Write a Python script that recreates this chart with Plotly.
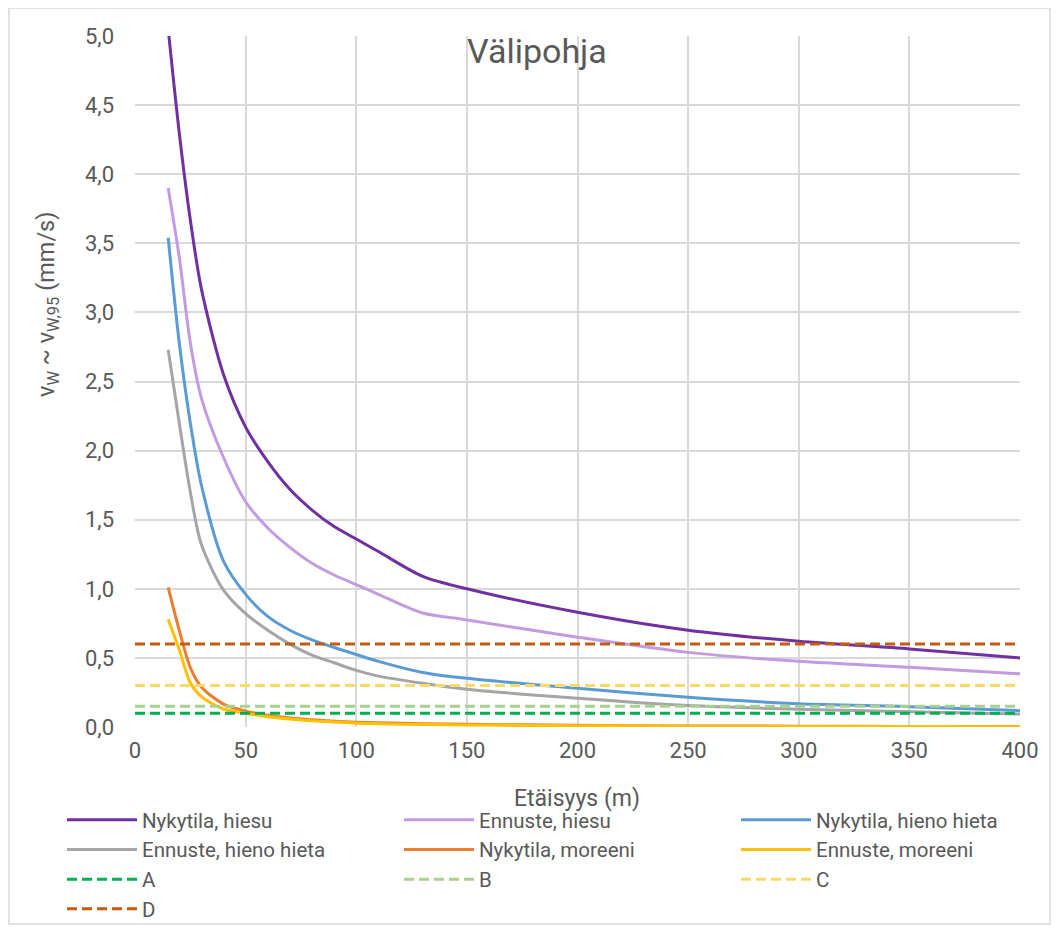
import plotly.graph_objects as go

# distances (m)
dist = [15, 20, 25, 30, 40, 50, 60, 70, 80, 90, 100, 110, 130, 150, 200, 250, 300, 350, 400]

nyk_hiesu = [5.05, 4.30, 3.67, 3.17, 2.55, 2.17, 1.92, 1.72, 1.57, 1.45, 1.36, 1.27, 1.09, 1.00, 0.83, 0.70, 0.62, 0.565, 0.50]
enn_hiesu = [3.90, 3.40, 2.78, 2.38, 1.95, 1.63, 1.44, 1.30, 1.185, 1.10, 1.03, 0.96, 0.825, 0.775, 0.65, 0.54, 0.475, 0.432, 0.385]
nyk_hieno = [3.54, 2.78, 2.20, 1.75, 1.20, 0.96, 0.80, 0.70, 0.63, 0.575, 0.525, 0.475, 0.395, 0.352, 0.28, 0.215, 0.168, 0.147, 0.118]
enn_hieno = [2.73, 2.20, 1.70, 1.32, 0.99, 0.82, 0.70, 0.60, 0.52, 0.465, 0.41, 0.368, 0.316, 0.273, 0.208, 0.155, 0.128, 0.111, 0.094]
nyk_moreeni = [1.01, 0.70, 0.43, 0.29, 0.165, 0.115, 0.085, 0.065, 0.052, 0.042, 0.035, 0.030, 0.024, 0.020, 0.012, 0.008, 0.006, 0.004, 0.003]
enn_moreeni = [0.78, 0.56, 0.32, 0.22, 0.13, 0.10, 0.075, 0.058, 0.045, 0.036, 0.028, 0.024, 0.018, 0.015, 0.009, 0.006, 0.004, 0.003, 0.002]

limit_x = [0, 400]
limit_names = ["A", "B", "C", "D"]
limit_vals = [0.1, 0.15, 0.3, 0.6]

curve_names = ["Nykytila, hiesu", "Ennuste, hiesu", "Nykytila, hieno hieta",
               "Ennuste, hieno hieta", "Nykytila, moreeni", "Ennuste, moreeni"]
curve_data = [nyk_hiesu, enn_hiesu, nyk_hieno, enn_hieno, nyk_moreeni, enn_moreeni]
curve_colors = ["#7030A0", "#C39BE0", "#5B9BD5", "#A5A5A5", "#ED7D31", "#FFC000"]
limit_colors = ["#00B050", "#A9D18E", "#FFD966", "#C55A11"]

fig = go.Figure()
for name, ys, col in zip(curve_names, curve_data, curve_colors):
    fig.add_trace(go.Scatter(x=dist, y=ys, name=name, mode="lines",
                             line=dict(color=col, width=3, shape="spline", smoothing=0.8)))
for name, v, col in zip(limit_names, limit_vals, limit_colors):
    fig.add_trace(go.Scatter(x=limit_x, y=[v, v], name=name, mode="lines",
                             line=dict(color=col, width=3, dash="10px,5px")))

# the page body adds an 8 px margin; work in screen pixels and convert
OFF = 8
W, H = 1059 - OFF, 931 - OFF
PL, PR, PT, PB = 135, 1020, 36, 727          # plot area in screen pixels
L, T = PL - OFF, PT - OFF
R, B = W - (PR - OFF), H - (PB - OFF)
pw, ph = W - L - R, H - T - B

def px(sx):
    return (sx - OFF - L) / pw

def py(sy):
    return (H - B - (sy - OFF)) / ph

txt = "#595959"
grid = "#D9D9D9"
base_font = "Roboto, Liberation Sans, sans-serif"
fig.update_layout(
    width=W, height=H,
    margin=dict(l=L, r=R, t=T, b=B, autoexpand=False),
    paper_bgcolor="white", plot_bgcolor="white",
    separators=", ",
    font=dict(family=base_font, color=txt, size=22),
    xaxis=dict(range=[0, 400], dtick=50, tick0=0, showgrid=True, gridcolor=grid, gridwidth=1.5,
               zeroline=False, showline=False, ticks="", ticklabelstandoff=8,
               tickfont=dict(size=22, color=txt)),
    yaxis=dict(range=[0, 5], dtick=0.5, tick0=0, tickformat=".1f", showgrid=True, gridcolor=grid,
               gridwidth=1.5, zeroline=False, showline=False, ticks="", ticklabelstandoff=20,
               tickfont=dict(size=22, color=txt)),
    showlegend=True,
    legend=dict(orientation="h", x=px(62), y=py(800), xanchor="left", yanchor="top",
                itemwidth=70, entrywidth=252, entrywidthmode="pixels",
                tracegroupgap=0, bgcolor="rgba(0,0,0,0)",
                font=dict(size=20.5, color=txt, family=base_font)),
)

# outer chart border
fig.add_shape(type="rect", xref="paper", yref="paper",
              x0=px(9), x1=px(1050), y0=py(924), y1=py(8),
              line=dict(color=grid, width=1.5), fillcolor="rgba(0,0,0,0)", layer="below")

fig.add_annotation(text="Välipohja", xref="paper", yref="paper", x=px(537), y=py(51),
                   showarrow=False, xanchor="center", yanchor="middle",
                   font=dict(size=34, color=txt, family=base_font))
fig.add_annotation(text="Etäisyys (m)", xref="paper", yref="paper", x=px(577), y=py(798),
                   showarrow=False, xanchor="center", yanchor="middle",
                   font=dict(size=23, color=txt, family=base_font))
fig.add_annotation(text="v<sub>W</sub> ~ v<sub>W,95</sub> (mm/s)", xref="paper", yref="paper",
                   x=px(47), y=py(305), textangle=-90, showarrow=False,
                   xanchor="center", yanchor="middle",
                   font=dict(size=23.5, color=txt, family=base_font))

fig.write_html("out.html")
